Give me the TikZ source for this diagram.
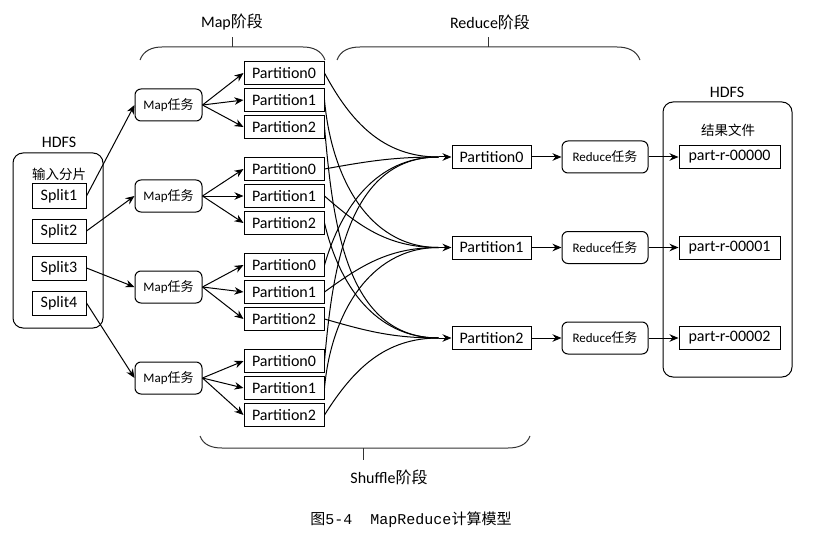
\documentclass[tikz,border=0pt]{standalone}
\usepackage{fontspec}
\setmainfont{Carlito}
\setmonofont{Liberation Mono}
\newfontfamily\cjk{Noto Sans CJK SC}
\usetikzlibrary{arrows.meta,calc}

\begin{document}
\begin{tikzpicture}[x=1pt,y=-1pt,line width=1pt,>={Stealth[length=9pt,width=7.5pt]}]
    \tikzstyle{every node}=[font=\fontsize{16}{18}\selectfont,inner sep=0pt]
    \tikzstyle{part}=[draw,minimum width=80pt,minimum height=23pt]
    \tikzstyle{task}=[draw,rounded corners=6pt,minimum height=32pt,font=\fontsize{13}{15}\selectfont]
    \tikzstyle{store}=[draw,rounded corners=10pt]
    \tikzstyle{small}=[font=\fontsize{13.5}{15}\selectfont]
    \tikzstyle{brace}=[line width=1pt,draw=black!80]
    \useasboundingbox (0,0) rectangle (821,540);

    \node[store,minimum width=90pt,minimum height=175pt] (hdfsin) at (58,240.5) {};
    \node (hdfsinlabel) at (59,142) {HDFS};
    \node[small] (splitlabel) at (59,174) {\cjk 输入分片};
    \foreach \s/\sy in {1/196,2/231,3/268,4/303}
        \node[draw,minimum width=54pt,minimum height=24pt] (split\s) at (59,\sy) {Split\s};

    \foreach \g/\my in {1/105,2/196,3/287,4/378} {
        \node[task,minimum width=67pt] (map\g) at (168.5,\my) {Map{\cjk 任务}};
        \draw[->] (split\g.east) -- (map\g.west);
        \foreach \k in {0,1,2} {
            \node[part] (p\g\k) at (284,{73+96*(\g-1)+27*\k}) {Partition\k};
            \draw[->] (map\g.east) -- (p\g\k.west);
        }
    }

    \node[store,minimum width=129pt,minimum height=275pt] (hdfsout) at (727.5,239.5) {};
    \node (hdfsoutlabel) at (727,92) {HDFS};
    \node[small] (resultlabel) at (728,130) {\cjk 结果文件};
    \foreach \k/\ry in {0/157,1/247.5,2/338} {
        \node[part,minimum width=79pt] (rp\k) at (491.5,\ry) {Partition\k};
        \node[task,minimum width=86pt] (red\k) at (605,\ry) {Reduce{\cjk 任务}};
        \node[draw,minimum width=101pt,minimum height=23pt] (out\k) at (729.5,\ry) {part-r-0000\k};
        \coordinate (c\k) at ($(rp\k.west)+(-13,0)$);
        \draw[->] (c\k) -- (rp\k.west);
        \draw[->] (rp\k.east) -- (red\k.west);
        \draw[->] (red\k.east) -- (out\k.west);
    }

    \foreach \g in {1,...,4}
        \foreach \k in {0,1,2}
            \draw let \p1=(p\g\k.east), \p2=(c\k),
                \n1={atan2(\y2-\y1,\x2-\x1)}, \n2={max(min(1.7*\n1,85),-85)}
                in (\p1) to[out=\n2,in=180] (\p2);

    \draw[brace] (140,60) to[out=70,in=180] (162,47) -- (303,47) to[out=0,in=110] (325,60);
    \draw[brace] (232,47) -- (232,37);
    \node (maplabel) at (232,22) {Map{\cjk 阶段}};
    \draw[brace] (337,60) to[out=70,in=180] (360,47) -- (617,47) to[out=0,in=110] (640,60);
    \draw[brace] (488,47) -- (488,37);
    \node (reducelabel) at (490,22) {Reduce{\cjk 阶段}};
    \draw[brace] (200,436) to[out=-70,in=180] (222,448) -- (508,448) to[out=0,in=-110] (530,436);
    \draw[brace] (363,448) -- (363,460);
    \node (shufflelabel) at (389,477) {Shuffle{\cjk 阶段}};

    \node[font=\fontsize{15}{17}\selectfont] (caption) at (411,520) {{\cjk 图}\texttt{5-4\ \ MapReduce}{\cjk 计算模型}};
\end{tikzpicture}
\end{document}
